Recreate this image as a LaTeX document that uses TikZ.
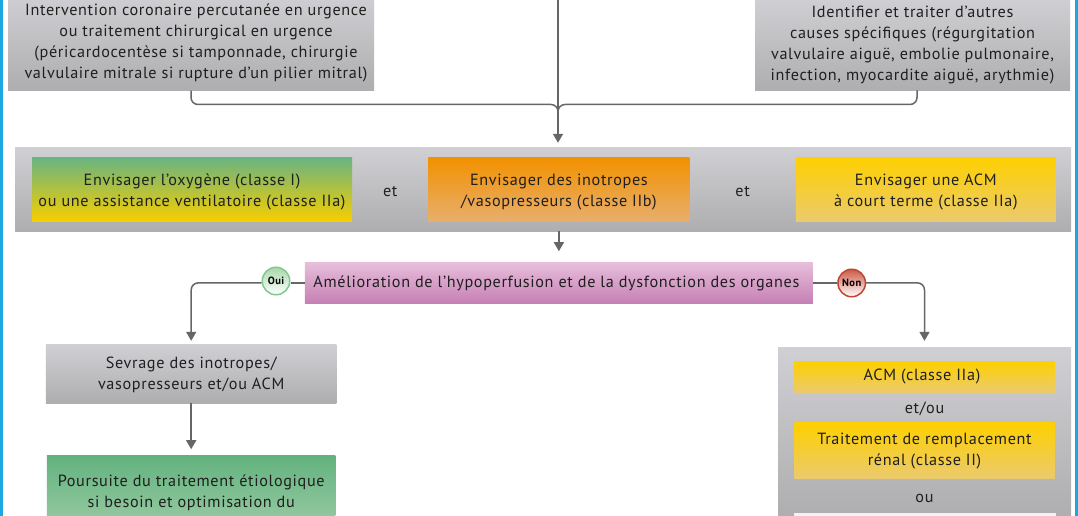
\documentclass[tikz,border=0pt]{standalone}
\usepackage{fontspec}
\setmainfont{PT Sans}[LetterSpace=4]
\usetikzlibrary{positioning,calc,arrows.meta}
\definecolor{inkcol}{HTML}{1F1F1F}
\definecolor{linecol}{HTML}{666668}
\definecolor{framecol}{HTML}{1BA7E1}
\newcommand{\dropby}[1]{\rule{0pt}{#1pt}}
\newcommand{\padby}{\hspace*{10pt}}
\tikzstyle{basebox} = [rectangle, inner sep=0pt, align=center, text=inkcol,
    font=\fontsize{16.2}{21}\selectfont]
\tikzstyle{graybox} = [basebox, top color={rgb,255:red,208;green,208;blue,212},
    bottom color={rgb,255:red,174;green,174;blue,176}]
\tikzstyle{greenbox} = [basebox, top color={rgb,255:red,99;green,178;blue,126},
    bottom color={rgb,255:red,168;green,210;blue,174}]
\tikzstyle{mixbox} = [basebox, top color={rgb,255:red,104;green,180;blue,130},
    middle color={rgb,255:red,142;green,188;blue,100},
    bottom color={rgb,255:red,247;green,206;blue,0}]
\tikzstyle{orangebox} = [basebox, top color={rgb,255:red,242;green,145;blue,0},
    bottom color={rgb,255:red,232;green,174;blue,108}]
\tikzstyle{yellowbox} = [basebox, top color={rgb,255:red,254;green,208;blue,0},
    bottom color={rgb,255:red,235;green,202;blue,108}]
\tikzstyle{pinkbox} = [basebox, top color={rgb,255:red,231;green,190;blue,219},
    bottom color={rgb,255:red,198;green,128;blue,180}]
\tikzstyle{word} = [basebox]
\tikzstyle{wire} = [draw=linecol, line width=1.5pt, rounded corners=7pt]
\tikzstyle{arrowwire} = [wire, -{Triangle[length=9pt,width=10pt]}]
\tikzstyle{answer} = [circle, inner sep=0pt, minimum size=27.5pt, line width=1.5pt,
    font=\fontsize{10.5}{11}\bfseries\selectfont, text=black]
\begin{document}
\begin{tikzpicture}[x=1pt,y=-1pt]

\useasboundingbox (0,0) rectangle (1078,516);
\clip (0,0) rectangle (1078,516);
\fill[white] (0,0) rectangle (1078,516);
\fill[framecol] (0,0) rectangle (2.5,516);
\fill[framecol] (1075,0) rectangle (1078,516);

\node [graybox, minimum width=366pt, minimum height=97pt] (cause1) at (191,42) {%
    \dropby{13}\padby Intervention coronaire percutanée en urgence\\
    \padby ou traitement chirurgical en urgence\\
    \padby (péricardocentèse si tamponnade, chirurgie\\
    \padby valvulaire mitrale si rupture d’un pilier mitral)
};
\node [graybox, minimum width=315pt, minimum height=93pt] (cause2) at (912.5,44) {%
    \dropby{13}Identifier et traiter d’autres\\
    causes spécifiques (régurgitation\\
    valvulaire aiguë, embolie pulmonaire,\\
    infection, myocardite aiguë, arythmie)
};
\coordinate (cause2out) at (917,90.5);
\coordinate (topin) at (558,0);
\coordinate (joint) at (558,104.5);

\node [graybox, minimum width=1056pt, minimum height=84pt] (band) at (543,189) {};
\node [mixbox, minimum width=320pt, minimum height=64pt, right=17pt of band.west] (oxygen) {%
    \dropby{18}Envisager l’oxygène (classe I)\\
    ou une assistance ventilatoire (classe IIa)
};
\node [orangebox, minimum width=261pt, minimum height=64pt, right=76pt of oxygen.east] (inotrope) {%
    \dropby{18}Envisager des inotropes\\
    /vasopresseurs (classe IIb)
};
\node [yellowbox, minimum width=260pt, minimum height=64pt, right=106pt of inotrope.east] (acmshort) {%
    \dropby{18}Envisager une ACM\\
    à court terme (classe IIa)
};
\node [word, yshift=-3pt] (et1) at ($(oxygen.east)!0.5!(inotrope.west)$) {et};
\node [word, yshift=-3pt] (et2) at ($(inotrope.east)!0.5!(acmshort.west)$) {et};

\draw [wire] (cause1.south) |- (joint) -- ++(0,6);
\draw [wire] (cause2out) |- (joint) -- ++(0,6);
\draw [arrowwire, shorten >=4pt] (topin) -- (topin |- band.north);

\node [pinkbox, minimum width=508pt, minimum height=41pt, below=41pt of inotrope.south] (improve) {%
    Amélioration de l’hypoperfusion et de la dysfonction des organes
};
\draw [arrowwire, shorten >=11pt] (improve.north |- band.south) -- (improve.north);

\node [answer, draw={rgb,255:red,130;green,200;blue,145},
    top color={rgb,255:red,168;green,216;blue,170}, bottom color=white] (oui) at (276,281) {Oui};
\node [answer, draw={rgb,255:red,190;green,70;blue,50},
    top color={rgb,255:red,205;green,90;blue,70}, bottom color=white] (non) at (851.7,283) {Non};

\node [graybox, minimum width=290.5pt, minimum height=59pt] (wean) at (191.2,373.5) {%
    \dropby{14}Sevrage des inotropes/\\
    vasopresseurs et/ou ACM
};
\node [greenbox, minimum width=288.5pt, minimum height=92pt, below=52pt of wean.south] (follow) {%
    Poursuite du traitement étiologique\\
    si besoin et optimisation du\\
    traitement médical recommandé
};

\node [graybox, minimum width=293pt, minimum height=170pt] (panel) at (924.5,432) {};
\node [yellowbox, minimum width=260pt, minimum height=31pt, below=14pt of panel.north] (acm) {%
    ACM (classe IIa)
};
\node [yellowbox, minimum width=260pt, minimum height=56pt, below=30pt of acm.south] (renal) {%
    \dropby{13}Traitement de remplacement\\
    rénal (classe II)
};
\node [word, yshift=-2pt] (etou) at ($(acm.south)!0.5!(renal.north)$) {et/ou};
\node [word, below=15pt of renal.south] (ou) {ou};
\node [basebox, fill=black!5, minimum width=262pt, minimum height=30pt, below=34pt of renal.south] (lastbox) {};

\draw [wire] (improve.west) -- (oui.east |- improve.west);
\draw [arrowwire, shorten >=3pt] (oui.west |- improve.west) -| (wean.north);
\draw [wire] (improve.east) -- (non.west |- improve.east);
\draw [arrowwire, shorten >=6pt] (non.east |- improve.east) -| (panel.north);
\draw [arrowwire, shorten >=6pt] (wean.south) -- (follow.north);

\end{tikzpicture}
\end{document}
